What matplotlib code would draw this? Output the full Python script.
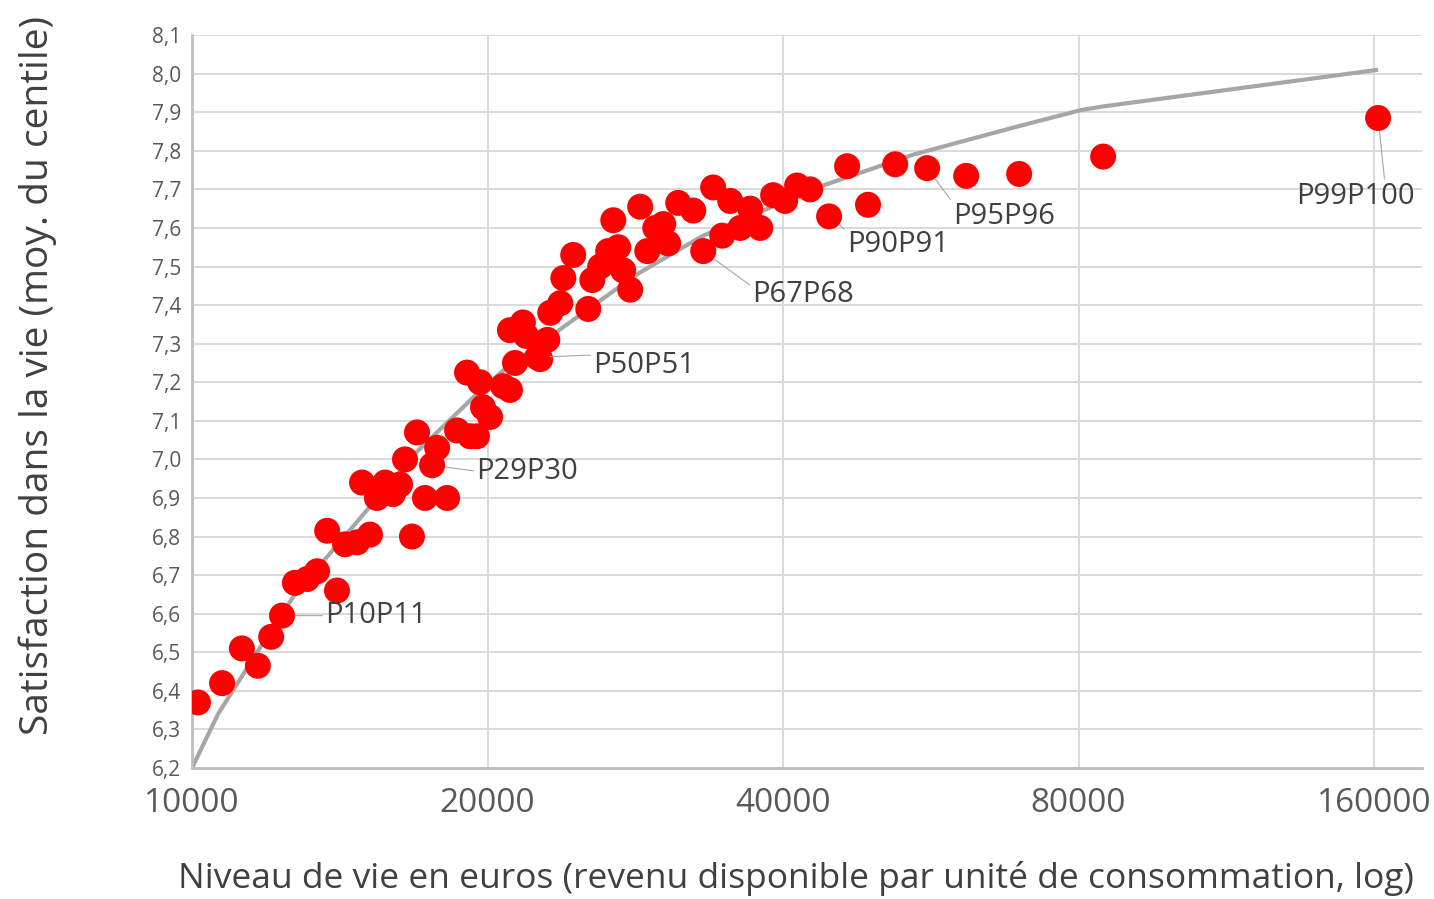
import matplotlib
matplotlib.use("Agg")
import matplotlib.pyplot as plt
from matplotlib.ticker import FixedLocator, FuncFormatter, NullLocator

plt.rcParams['font.family'] = ['Open Sans', 'DejaVu Sans']

# niveau de vie (euros) et satisfaction moyenne par centile (points visibles)
revenu = [10140, 10730, 11240, 11670, 12040, 12350, 12730, 13100, 13410, 13730,
          14050, 14320, 14730, 14900, 15180, 15430, 15730, 16020, 16290, 16480,
          16750, 16950, 17270, 17560, 17770, 18190, 18620, 19060, 19200, 19510,
          19650, 19790, 20120, 20740, 21080, 21080, 21330, 21730, 21900, 22470,
          22630, 23010, 23170, 23720, 23890, 24450, 25330, 25570, 26050, 26540,
          26860, 27170, 27490, 27950, 28610, 29090, 29640, 30200, 30550, 31280,
          32400, 33170, 33950, 34680, 35340, 36180, 37030, 37910, 39080, 40190,
          41340, 42620, 44560, 46480, 48820, 52030, 56080, 61460, 69590, 84740,
          161500]
satisfaction = [6.37, 6.42, 6.51, 6.465, 6.54, 6.595, 6.68, 6.69, 6.71, 6.815,
                6.66, 6.78, 6.785, 6.94, 6.805, 6.90, 6.94, 6.91, 6.935, 7.00,
                6.80, 7.07, 6.90, 6.985, 7.03, 6.90, 7.075, 7.225, 7.06, 7.06,
                7.20, 7.135, 7.11, 7.19, 7.18, 7.335, 7.25, 7.355, 7.32, 7.265,
                7.26, 7.31, 7.38, 7.405, 7.47, 7.53, 7.39, 7.465, 7.50, 7.54,
                7.62, 7.55, 7.49, 7.44, 7.655, 7.54, 7.60, 7.61, 7.56, 7.665,
                7.645, 7.54, 7.705, 7.58, 7.67, 7.60, 7.65, 7.60, 7.685, 7.67,
                7.71, 7.70, 7.63, 7.76, 7.66, 7.765, 7.755, 7.735, 7.74, 7.785,
                7.885]

# courbe de tendance
courbe_x = [10000, 10630, 11320, 12060, 12730, 16950, 19330, 20740, 24100, 28400,
            33160, 43930, 54280, 68610, 80280, 84740, 161500]
courbe_y = [6.2, 6.34, 6.45, 6.56, 6.65, 7.02, 7.16, 7.23, 7.35, 7.48,
            7.58, 7.71, 7.79, 7.86, 7.905, 7.915, 8.01]

# etiquettes : (texte, indice du point, decalage en pixels, ha, relpos)
etiquettes = [
    ("P10P11", 5, (43, 0), 'left', (0, 0.5)),
    ("P29P30", 23, (44, -6), 'left', (0, 0.5)),
    ("P50P51", 39, (56, -8), 'left', (0, 0.85)),
    ("P67P68", 61, (49, -43), 'left', (0, 0.75)),
    ("P90P91", 72, (18, -28), 'left', (0, 0.95)),
    ("P95P96", 76, (26, -48), 'left', (0, 0.95)),
    ("P99P100", 80, (-23, -78), 'center', (0.75, 1.0)),
]

yticks = [6.2 + 0.1 * i for i in range(20)]
xticks = [10000, 20000, 40000, 80000, 160000]

fig = plt.figure(figsize=(14.34, 8.99), dpi=100)
ax = fig.add_axes([0.1339, 0.1457, 0.8577, 0.8153])

ax.plot(courbe_x, courbe_y, color='#a6a6a6', lw=3, zorder=2, solid_capstyle='butt')
ax.scatter(revenu, satisfaction, s=350, color='#ff0000', edgecolors='none', zorder=3)

for txt, i, off, ha, rp in etiquettes:
    ax.annotate(txt, xy=(revenu[i], satisfaction[i]), xytext=off,
                textcoords='offset pixels', ha=ha, va='center',
                fontsize=21, color='#404040', zorder=4,
                arrowprops=dict(arrowstyle='-', color='#a6a6a6', lw=0.8,
                                shrinkA=0, shrinkB=9.5, relpos=rp))

ax.set_xscale('log')
ax.set_xlim(10000, 179000)
ax.set_ylim(6.2, 8.1)
ax.xaxis.set_major_locator(FixedLocator(xticks))
ax.xaxis.set_minor_locator(NullLocator())
ax.xaxis.set_major_formatter(FuncFormatter(lambda v, p: "%d" % v))
ax.yaxis.set_major_locator(FixedLocator(yticks))
ax.yaxis.set_major_formatter(FuncFormatter(lambda v, p: ("%.1f" % v).replace('.', ',')))

ax.grid(True, color='#d9d9d9', lw=1.4, zorder=0)
ax.set_axisbelow(True)
for s in ['top', 'right']:
    ax.spines[s].set_visible(False)
for s in ['left', 'bottom']:
    ax.spines[s].set_color('#bfbfbf')
    ax.spines[s].set_linewidth(2)

ax.tick_params(axis='y', length=0, pad=8, labelsize=15, labelcolor='#595959')
ax.tick_params(axis='x', length=0, pad=14, labelsize=24, labelcolor='#595959')

ax.set_ylabel("Satisfaction dans la vie (moy. du centile)", fontsize=28, color='#404040')
ax.yaxis.set_label_coords(-0.11, 0.536)
ax.set_xlabel("Niveau de vie en euros (revenu disponible par unité de consommation, log)",
              fontsize=25.5, color='#404040')
ax.xaxis.set_label_coords(0.491, -0.127)

fig.savefig("out.png", dpi=100)
